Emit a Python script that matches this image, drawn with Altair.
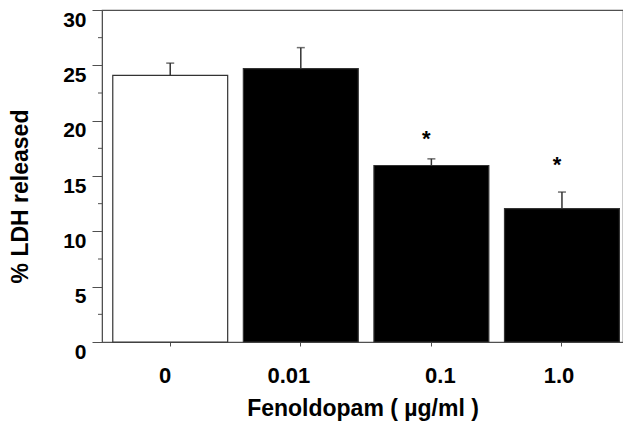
import altair as alt
import pandas as pd

doses = ["0", "0.01", "0.1", "1.0"]
ldh = [24.1, 24.7, 15.95, 12.05]
sem = [1.1, 1.9, 0.6, 1.5]
fills = ["white", "black", "black", "black"]
star_labels = ["", "", "*", "*"]
star_pos = [None, None, 18.7, 16.4]
major_ticks = [0, 5, 10, 15, 20, 25, 30]
minor_ticks = [2.5, 7.5, 12.5, 17.5, 22.5, 27.5]

df = pd.DataFrame({
    "dose": doses,
    "ldh": ldh,
    "hi": [v + e for v, e in zip(ldh, sem)],
    "fill": fills,
    "star": star_labels,
    "starpos": star_pos,
})
minor_df = pd.DataFrame({"m": minor_ticks})

FONT = "Liberation Sans"
AX = "#505050"

xscale = alt.Scale(paddingInner=0.12, paddingOuter=0.055, align=0.75)
label_shift = {
    "condition": [
        {"test": "datum.value === '0'", "value": -5},
        {"test": "datum.value === '0.01'", "value": -12},
        {"test": "datum.value === '0.1'", "value": 9},
    ],
    "value": -3,
}
xaxis = alt.Axis(title="Fenoldopam ( µg/ml )", labelAngle=0,
                 labelFontSize=22, labelFontWeight="bold", labelFont=FONT,
                 labelOffset=label_shift,
                 titleFontSize=23, titleFontWeight="bold", titleFont=FONT,
                 titleBaseline="alphabetic", titleY=73,
                 tickSize=4, labelPadding=19,
                 domainColor=AX, tickColor=AX, labelColor="black",
                 titleColor="black")
x = alt.X("dose:N", sort=doses, scale=xscale, axis=xaxis)
yscale = alt.Scale(domain=[0, 30], nice=False)
yaxis = alt.Axis(title="% LDH released", values=major_ticks,
                 labelFontSize=21, labelFontWeight="bold", labelFont=FONT,
                 labelBaseline="top", labelOffset=-1,
                 titleFontSize=23, titleFontWeight="bold", titleFont=FONT,
                 titleX=-82, titleY=186, titleBaseline="middle", titleAlign="center",
                 titleAngle=270,
                 tickSize=10, labelPadding=6, grid=False,
                 domainColor=AX, tickColor=AX, labelColor="black",
                 titleColor="black")

bars = alt.Chart(df).mark_bar(stroke="#333", strokeWidth=1.2).encode(
    x=x,
    y=alt.Y("ldh:Q", scale=yscale, axis=yaxis),
    fill=alt.Fill("fill:N", scale=None),
)
err = alt.Chart(df).mark_rule(color="#333", strokeWidth=1.5).encode(
    x=alt.X("dose:N", sort=doses), y="ldh:Q", y2="hi:Q")
cap = alt.Chart(df).mark_tick(color="#333", thickness=1.5, size=8).encode(
    x=alt.X("dose:N", sort=doses), y="hi:Q")
stars = alt.Chart(df).mark_text(fontSize=22, font=FONT, fontWeight="bold",
                                baseline="middle", dy=4, dx=-5).encode(
    x=alt.X("dose:N", sort=doses), y="starpos:Q", text="star:N")
minor = alt.Chart(minor_df).mark_rule(color=AX, strokeWidth=1).encode(
    y="m:Q", x=alt.value(-4), x2=alt.value(0))

chart = alt.layer(bars, err, cap, stars, minor).properties(
    width=521, height=332,
    padding={"left": 94, "top": 2, "right": 0, "bottom": 80},
    autosize=alt.AutoSizeParams(type="none"),
    background="white",
).configure_view(stroke=AX, strokeWidth=1.2)

chart.save("out.html", embed_options={"renderer": "svg", "actions": False})
